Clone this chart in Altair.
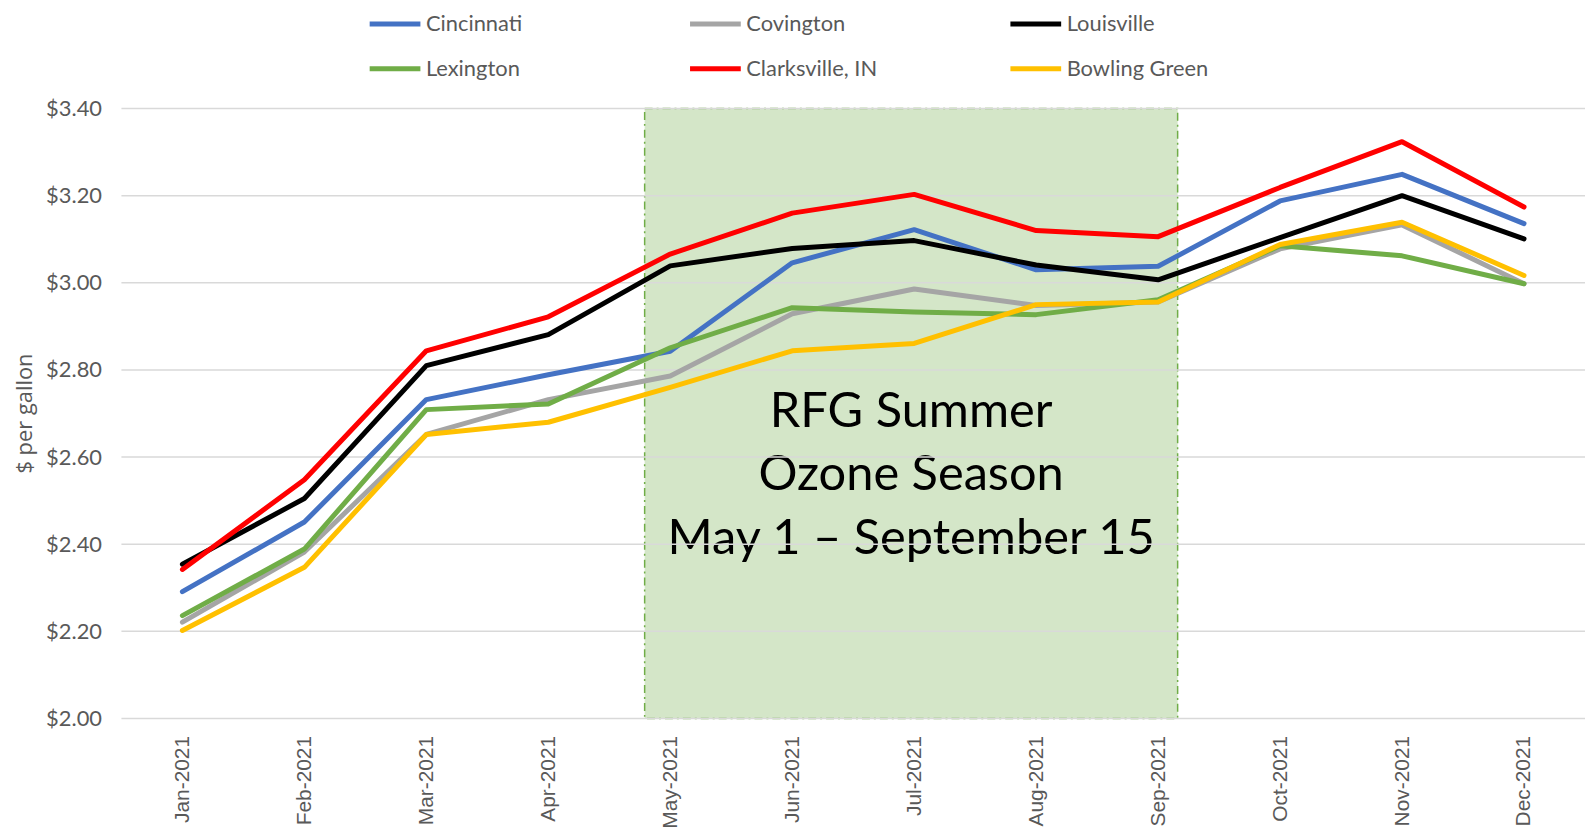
import json
import altair as alt
import pandas as pd

# ---------------- data ----------------
months = ["Jan-2021", "Feb-2021", "Mar-2021", "Apr-2021", "May-2021", "Jun-2021",
          "Jul-2021", "Aug-2021", "Sep-2021", "Oct-2021", "Nov-2021", "Dec-2021"]
cities = ["Cincinnati", "Covington", "Louisville", "Lexington", "Clarksville, IN", "Bowling Green"]
colors = ["#4472C4", "#A5A5A5", "#000000", "#70AD47", "#FF0000", "#FFC000"]

cincinnati = [2.291, 2.451, 2.732, 2.789, 2.843, 3.046, 3.122, 3.030, 3.038, 3.188, 3.249, 3.136]
covington = [2.221, 2.382, 2.652, 2.732, 2.786, 2.929, 2.986, 2.948, 2.956, 3.078, 3.133, 2.998]
louisville = [2.354, 2.505, 2.810, 2.881, 3.039, 3.079, 3.097, 3.041, 3.007, 3.104, 3.200, 3.101]
lexington = [2.236, 2.389, 2.709, 2.722, 2.851, 2.943, 2.933, 2.927, 2.961, 3.085, 3.062, 2.998]
clarksville = [2.342, 2.548, 2.844, 2.922, 3.066, 3.160, 3.203, 3.120, 3.106, 3.219, 3.324, 3.174]
bowling_green = [2.202, 2.347, 2.652, 2.680, 2.760, 2.844, 2.861, 2.950, 2.956, 3.088, 3.139, 3.017]

y_ticks = [2.0, 2.2, 2.4, 2.6, 2.8, 3.0, 3.2, 3.4]

# ozone season span, in month-index units
season_start = 3.79
season_end = 8.16
season_top = 3.4
season_bottom = 2.0
season_label = "RFG Summer\nOzone Season\nMay 1 \u2013 September 15"
season_label_y = 2.704

# ---------------- frames ----------------
series = [cincinnati, covington, louisville, lexington, clarksville, bowling_green]
rows = []
for k, (city, vals) in enumerate(zip(cities, series)):
    for i, v in enumerate(vals):
        rows.append({"idx": i, "city": city, "price": v, "k": k})
df = pd.DataFrame(rows)

rect_df = pd.DataFrame({"x": [season_start], "x2": [season_end],
                        "y": [season_top], "y2": [season_bottom]})
text_df = pd.DataFrame({"x": [(season_start + season_end) / 2],
                        "y": [season_label_y], "t": [season_label]})
grid_df = pd.DataFrame({"v": y_ticks})

# ---------------- scales / axes ----------------
xscale = alt.Scale(domain=[-0.5, 11.5], nice=False, zero=False)
yscale = alt.Scale(domain=[2.0, 3.4], nice=False, zero=False)

xaxis = alt.Axis(values=list(range(12)), labelExpr=json.dumps(months) + "[datum.value]",
                 labelAngle=-90, labelFont="Liberation Sans", labelFontSize=21,
                 labelColor="#595959", labelPadding=17, title=None,
                 grid=False, ticks=False, domain=False)
yaxis = alt.Axis(values=y_ticks, format="$.2f", labelFont="Lato", labelFontSize=22,
                 labelColor="#595959", labelPadding=20, grid=False, ticks=False,
                 domain=False, title="$ per gallon", titleFont="Open Sans",
                 titleFontSize=22, titleFontWeight="normal", titleColor="#595959",
                 titleAngle=270, titleX=-97, titleY=306, titleAlign="center",
                 titleBaseline="middle")

rect = alt.Chart(rect_df).mark_rect(
    fill="#D4E6C8", stroke="#70AD47", strokeWidth=1.5, strokeDash=[8, 4, 2, 4]
).encode(
    x=alt.X("x:Q", scale=xscale, axis=xaxis),
    x2="x2:Q",
    y=alt.Y("y:Q", scale=yscale, axis=yaxis),
    y2="y2:Q",
)

text = alt.Chart(text_df).mark_text(
    font="Lato", fontSize=49, lineBreak="\n", lineHeight=64, color="#000000",
    align="center", baseline="middle"
).encode(
    x=alt.X("x:Q", scale=xscale, axis=xaxis),
    y=alt.Y("y:Q", scale=yscale, axis=yaxis),
    text="t:N",
)

grid = alt.Chart(grid_df).mark_rule(color="#D9D9D9", strokeWidth=1.5).encode(
    y=alt.Y("v:Q", scale=yscale, axis=yaxis),
)

lines = alt.Chart(df).mark_line(strokeWidth=5, strokeJoin="round", strokeCap="round").encode(
    x=alt.X("idx:Q", scale=xscale, axis=xaxis),
    y=alt.Y("price:Q", scale=yscale, axis=yaxis),
    color=alt.Color("city:N", scale=alt.Scale(domain=cities, range=colors),
                    legend=alt.Legend(title=None, orient="none", legendX=247, legendY=-113,
                                      direction="horizontal", columns=3, gridAlign="all",
                                      symbolType="stroke", symbolSize=2601,
                                      symbolStrokeWidth=5, labelFont="Lato",
                                      labelFontSize=22, labelColor="#595959",
                                      labelOffset=3, columnPadding=112, rowPadding=6,
                                      padding=0)),
    detail="k:O",
    order="idx:Q",
)

chart = alt.layer(rect, text, grid, lines).properties(
    width=1471, height=613,
    autosize=alt.AutoSizeParams(type="none"),
    padding={"left": 114, "top": 99, "right": 0, "bottom": 112},
).configure_view(stroke=None).configure_axis(grid=False)

chart.save("out.html", embed_options={"renderer": "svg", "actions": False})
